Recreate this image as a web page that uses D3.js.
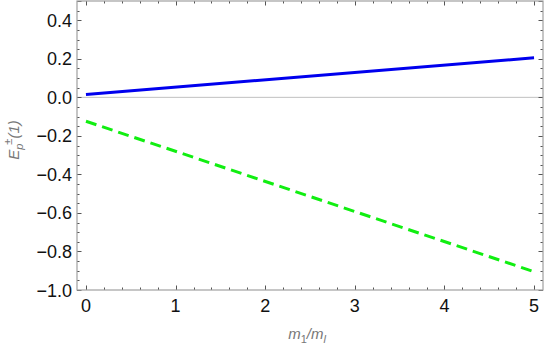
<!DOCTYPE html>
<html>
<head>
<meta charset="utf-8">
<script src="https://cdn.jsdelivr.net/npm/d3@7"></script>
<style>
  body { margin: 0; background: #fff; }
  text { font-family: "Liberation Sans", Arial, sans-serif; }
</style>
</head>
<body>
<svg id="chart"></svg>
<script>
const xValues = [0, 5];
const upper = [0.015, 0.205];
const lower = [-0.124, -0.905];
const xTicks = [0, 1, 2, 3, 4, 5];
const yTicks = [-1.0, -0.8, -0.6, -0.4, -0.2, 0.0, 0.2, 0.4];

const size = { width: 545, height: 347 };
const margin = { top: 1, right: 2, bottom: 57, left: 77 };

const svg = d3.select("#chart").attr("width", size.width).attr("height", size.height);

const x = d3.scaleLinear().domain([-0.1, 5.1]).range([margin.left, size.width - margin.right]);
const y = d3.scaleLinear().domain([-1.0, 0.5]).range([size.height - margin.bottom, margin.top]);

const frameColor = "#a0a0a0";
const tickColor = "#555";

// zero line
svg.append("line")
  .attr("x1", x(-0.1)).attr("x2", x(5.1))
  .attr("y1", y(0)).attr("y2", y(0))
  .attr("stroke", "#c0c0c0").attr("stroke-width", 1);

// ticks on all four sides
const xMinor = d3.range(0, 5.01, 0.2).filter((v) => Math.abs(v - Math.round(v)) > 1e-6);
const yMinor = d3.range(-1.0, 0.501, 0.05).filter((v) => !yTicks.some((t) => Math.abs(t - v) < 1e-6));

const ticks = svg.append("g").attr("stroke", tickColor).attr("stroke-width", 1);
const addX = (vals, len) => {
  vals.forEach((v) => {
    const px = Math.round(x(v)) + 0.5;
    ticks.append("line").attr("x1", px).attr("x2", px).attr("y1", y(-1)).attr("y2", y(-1) - len);
    ticks.append("line").attr("x1", px).attr("x2", px).attr("y1", y(0.5)).attr("y2", y(0.5) + len);
  });
};
const addY = (vals, len) => {
  vals.forEach((v) => {
    const py = Math.round(y(v)) + 0.5;
    ticks.append("line").attr("x1", x(-0.1)).attr("x2", x(-0.1) + len).attr("y1", py).attr("y2", py);
    ticks.append("line").attr("x1", x(5.1)).attr("x2", x(5.1) - len).attr("y1", py).attr("y2", py);
  });
};
addX(xTicks, 4.5);
addX(xMinor, 2.5);
addY(yTicks.concat([0.5]), 4.5);
addY(yMinor, 2.5);

// frame
svg.append("rect")
  .attr("x", x(-0.1)).attr("y", y(0.5))
  .attr("width", x(5.1) - x(-0.1)).attr("height", y(-1) - y(0.5))
  .attr("fill", "none").attr("stroke", frameColor).attr("stroke-width", 1.2);

// tick labels
const fmt = (v) => (v < 0 ? "\u2212" : "") + d3.format(".1f")(Math.abs(v));
svg.append("g").selectAll("text").data(yTicks).join("text")
  .attr("x", x(-0.1) - 5).attr("y", (d) => y(d) + 6.5)
  .attr("text-anchor", "end").style("font-size", "18px").attr("fill", "#111")
  .text(fmt);
svg.append("g").selectAll("text").data(xTicks).join("text")
  .attr("x", (d) => x(d)).attr("y", y(-1) + 21.5)
  .attr("text-anchor", "middle").style("font-size", "18px").attr("fill", "#111")
  .text((d) => d);

// series
const line = d3.line().x((d) => x(d[0])).y((d) => y(d[1]));
svg.append("path")
  .attr("d", line(xValues.map((v, i) => [v, upper[i]])))
  .attr("fill", "none").attr("stroke", "#0000ee").attr("stroke-width", 3);
svg.append("path")
  .attr("d", line(xValues.map((v, i) => [v, lower[i]])))
  .attr("fill", "none").attr("stroke", "#11ee11").attr("stroke-width", 3)
  .attr("stroke-dasharray", "11,6");

// axis labels
const xl = svg.append("text")
  .attr("x", 307).attr("y", 339)
  .attr("text-anchor", "middle").style("font-size", "15px").attr("fill", "#777")
  .attr("font-style", "italic");
xl.append("tspan").text("m");
xl.append("tspan").style("font-size", "11px").attr("dy", 4).attr("font-style", "normal").text("1");
xl.append("tspan").attr("dy", -4).text("/m");
xl.append("tspan").style("font-size", "11px").attr("dy", 4).text("l");

const yl = svg.append("text")
  .attr("transform", "translate(19,140) rotate(-90)")
  .attr("text-anchor", "middle").style("font-size", "15px").attr("fill", "#777")
  .attr("font-style", "italic");
yl.append("tspan").text("E");
yl.append("tspan").style("font-size", "11px").attr("dy", 4).text("p");
yl.append("tspan").style("font-size", "11px").attr("dy", -11).attr("dx", -1).attr("font-style", "normal").text("\u00b1");
yl.append("tspan").attr("dy", 7).text("(1)");
</script>
</body>
</html>
